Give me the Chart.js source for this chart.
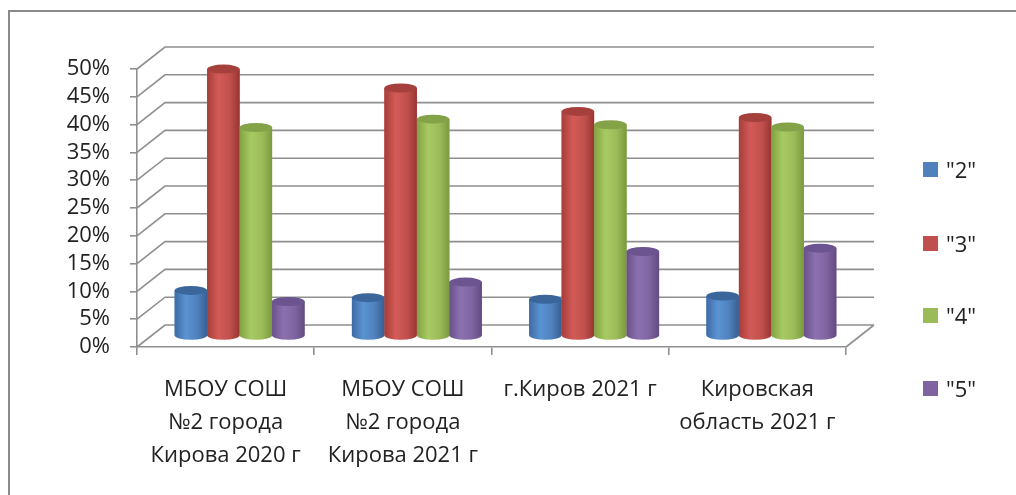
<!DOCTYPE html>
<html>
<head>
<meta charset="utf-8">
<script src="https://cdn.jsdelivr.net/npm/chart.js@4.4.1/dist/chart.umd.min.js"></script>
<style>
    html, body { margin: 0; padding: 0; background: #fff; overflow: hidden; }
    #wrap { position: relative; width: 1016px; height: 495px; }
    #legend { position: absolute; left: 923px; top: 0; font: 22px 'Open Sans', sans-serif; color: #222; }
    #legend .item { position: absolute; left: 0; height: 30px; line-height: 30px; display: flex; align-items: center; white-space: nowrap; }
    #legend .box { width: 15px; height: 15px; margin-right: 8px; }
</style>
</head>
<body>
<div id="wrap">
    <canvas id="gradesChart" width="1016" height="495"></canvas>
    <div id="legend"></div>
</div>
<script>
const categories = [
    ['МБОУ СОШ', '№2 города', 'Кирова 2020 г'],
    ['МБОУ СОШ', '№2 города', 'Кирова 2021 г'],
    ['г.Киров 2021 г'],
    ['Кировская', 'область 2021 г']
];
const seriesNames = ['"2"', '"3"', '"4"', '"5"'];
const grade2 = [8.2, 6.9, 6.6, 7.2];
const grade3 = [48.0, 44.6, 40.4, 39.3];
const grade4 = [37.5, 39.0, 38.0, 37.6];
const grade5 = [6.2, 9.7, 15.2, 15.8];
const yMax = 50;
const yStep = 5;

const seriesColors = ['#4f81bd', '#c0504d', '#9bbb59', '#8064a2'];
// left edge, highlight, right edge, top cap
const shades = [
    ['#3d6ba5', '#5c93d2', '#375f92', '#3a669c'],
    ['#a63d39', '#d35b57', '#9a3532', '#a5403c'],
    ['#81a244', '#a8ca62', '#79993e', '#84a348'],
    ['#69518a', '#8c71b1', '#624b80', '#6b548f']
];
const gridColor = '#8f8f8f';
const DX = 28, DY = 22;

const wall3d = {
    id: 'wall3d',
    beforeDraw(chart) {
        const ctx = chart.ctx;
        ctx.save();
        ctx.strokeStyle = '#8a8a8a';
        ctx.lineWidth = 2;
        ctx.beginPath();
        ctx.moveTo(9, 495);
        ctx.lineTo(9, 11);
        ctx.lineTo(1016, 11);
        ctx.stroke();
        ctx.restore();
    },
    beforeDatasetsDraw(chart) {
        const { ctx, chartArea: a, scales: { y } } = chart;
        ctx.save();
        ctx.strokeStyle = gridColor;
        ctx.lineWidth = 1.6;
        ctx.beginPath();
        y.ticks.forEach(t => {
            const py = y.getPixelForValue(t.value);
            ctx.moveTo(a.left, py);
            ctx.lineTo(a.left + DX, py - DY);
            ctx.lineTo(a.right + DX, py - DY);
        });
        const p0 = y.getPixelForValue(0);
        ctx.moveTo(a.right, p0);
        ctx.lineTo(a.right + DX, p0 - DY);
        ctx.stroke();
        ctx.restore();

        // bars stand in the middle of the depth
        ctx.save();
        ctx.translate(DX / 2, -DY / 2);
    },
    afterDatasetsDraw(chart) {
        const ctx = chart.ctx;
        const ry = 4.5;
        chart.data.datasets.forEach((ds, i) => {
            const s = shades[i];
            chart.getDatasetMeta(i).data.forEach(el => {
                const w = el.width, left = el.x - w / 2, right = el.x + w / 2;
                const g = ctx.createLinearGradient(left, 0, right, 0);
                g.addColorStop(0, s[0]);
                g.addColorStop(0.35, s[1]);
                g.addColorStop(0.7, seriesColors[i]);
                g.addColorStop(1, s[2]);
                ctx.fillStyle = g;
                ctx.beginPath();
                ctx.moveTo(left, el.y);
                ctx.lineTo(left, el.base);
                ctx.ellipse(el.x, el.base, w / 2, ry, 0, Math.PI, 0, true);
                ctx.lineTo(right, el.y);
                ctx.closePath();
                ctx.fill();
                ctx.fillStyle = s[3];
                ctx.beginPath();
                ctx.ellipse(el.x, el.y, w / 2, ry, 0, 0, Math.PI * 2);
                ctx.fill();
            });
        });
        ctx.restore();
    }
};

const font = { family: 'Open Sans', size: 22 };

new Chart(document.getElementById('gradesChart').getContext('2d'), {
    type: 'bar',
    data: {
        labels: categories,
        datasets: [grade2, grade3, grade4, grade5].map((d, i) => ({
            label: seriesNames[i],
            data: d,
            backgroundColor: seriesColors[i],
            borderWidth: 0,
            categoryPercentage: 0.733,
            barPercentage: 1.0,
            clip: false
        }))
    },
    options: {
        responsive: false,
        animation: false,
        layout: { padding: { left: 0, top: 69, right: 170, bottom: 0 } },
        plugins: {
            legend: { display: false },
            tooltip: { enabled: false }
        },
        scales: {
            x: {
                ticks: { padding: 18, color: '#222', maxRotation: 0, autoSkip: false, font: { ...font, lineHeight: 1.5 } },
                grid: { drawOnChartArea: false, offset: true, tickLength: 8, color: gridColor, lineWidth: 1.6 },
                border: { color: gridColor, width: 1.6 },
                afterFit(scale) { scale.height = 148; }
            },
            y: {
                min: 0,
                max: yMax,
                ticks: { stepSize: yStep, autoSkip: false, padding: 20, color: '#222', font: font, callback: v => v + '%' },
                grid: { drawOnChartArea: false, tickLength: 7, color: gridColor, lineWidth: 1.6 },
                border: { color: gridColor, width: 1.6 },
                afterFit(scale) { scale.width = 137; }
            }
        }
    },
    plugins: [wall3d]
});

// Legend
const legendCenters = [169, 243, 315, 388];
const legendEl = document.getElementById('legend');
seriesNames.forEach((name, i) => {
    const item = document.createElement('div');
    item.className = 'item';
    item.style.top = (legendCenters[i] - 15) + 'px';
    item.innerHTML = '<span class="box" style="background:' + seriesColors[i] + '"></span>' + name;
    legendEl.appendChild(item);
});
</script>
</body>
</html>
